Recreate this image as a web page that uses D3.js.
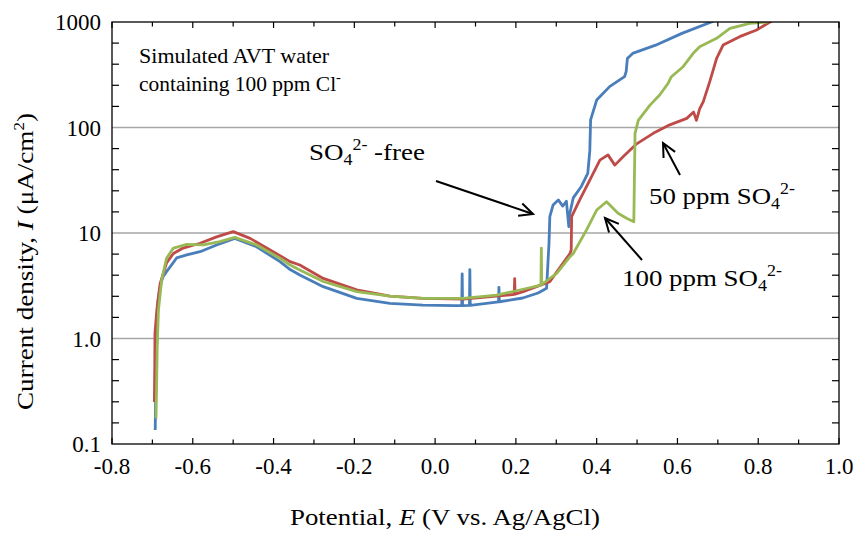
<!DOCTYPE html>
<html><head><meta charset="utf-8">
<script src="https://cdn.jsdelivr.net/npm/d3@7"></script>
<style>body{margin:0;background:#fff}svg{display:block}text{font-family:"Liberation Serif","Times New Roman",serif;fill:#000}</style>
</head><body><svg id="c" width="864" height="539"></svg>
<script>
const xTicks = [-0.8,-0.6,-0.4,-0.2,0.0,0.2,0.4,0.6,0.8,1.0];
const xTickLabels = ["-0.8","-0.6","-0.4","-0.2","0.0","0.2","0.4","0.6","0.8","1.0"];
const yTicks = [0.1,1,10,100,1000];
const yTickLabels = ["0.1","1.0","10","100","1000"];
const gridValues = [1,10,100];

const seriesNames = ["SO4 2- -free","50 ppm SO4 2-","100 ppm SO4 2-"];
const seriesColors = ["#4a7ebb","#be4b48","#98b954"];

const blueE = [-0.693,-0.691,-0.689,-0.686,-0.680,-0.674,-0.665,-0.656,-0.640,-0.615,-0.582,-0.541,-0.496,-0.442,-0.384,-0.359,-0.335,-0.277,-0.194,-0.112,-0.030,0.050,0.066,0.067,0.068,0.085,0.086,0.087,0.157,0.158,0.159,0.217,0.255,0.276,0.282,0.284,0.292,0.305,0.316,0.325,0.331,0.333,0.342,0.362,0.378,0.383,0.385,0.400,0.432,0.469,0.473,0.476,0.489,0.546,0.611,0.684,0.700];
const blueI = [0.136,0.5,1.0,2.3,3.2,3.83,4.3,4.77,5.8,6.2,6.65,7.7,8.9,7.4,5.35,4.5,4.0,3.1,2.40,2.15,2.07,2.05,2.05,4.1,2.05,2.06,4.5,2.06,2.22,3.05,2.23,2.42,2.7,3.0,8,14.3,18.4,20.6,18,20,11.5,15,21.5,27.6,36.8,60,118,182,244,303,339,450,504,603,780,1000,1080];

const redE = [-0.695,-0.694,-0.6936,-0.689,-0.681,-0.665,-0.648,-0.624,-0.582,-0.541,-0.500,-0.458,-0.401,-0.359,-0.335,-0.277,-0.194,-0.112,-0.030,0.070,0.152,0.196,0.197,0.198,0.218,0.284,0.334,0.337,0.338,0.358,0.383,0.408,0.428,0.445,0.466,0.499,0.540,0.581,0.623,0.640,0.647,0.655,0.664,0.680,0.697,0.713,0.754,0.796,0.829,0.840];
const redI = [0.25,0.6,1.12,1.86,3.3,5.2,6.4,7.2,8.0,9.2,10.3,8.9,6.65,5.35,4.97,3.71,2.89,2.52,2.40,2.36,2.52,2.62,3.7,2.63,2.78,3.46,6.4,6.9,14.3,20.6,31.7,49,55,44,53,70,88,106,122,140,117,150,176,272,453,605,726,840,1000,1050];

const greenE = [-0.691,-0.689,-0.688,-0.685,-0.677,-0.665,-0.648,-0.615,-0.574,-0.533,-0.496,-0.442,-0.384,-0.359,-0.335,-0.277,-0.194,-0.112,-0.030,0.069,0.152,0.218,0.262,0.263,0.264,0.301,0.334,0.342,0.375,0.400,0.4245,0.453,0.474,0.492,0.495,0.503,0.532,0.556,0.577,0.585,0.614,0.639,0.655,0.697,0.730,0.779,0.821,0.830];
const greenI = [0.175,0.5,0.84,1.86,3.59,5.75,7.2,7.8,7.7,8.3,9.1,7.7,5.75,4.97,4.45,3.47,2.78,2.52,2.40,2.40,2.58,2.93,3.2,7.2,3.25,4.15,5.96,6.4,10.7,16.5,19.8,15.4,13.8,12.8,88,117,163,203,263,303,377,505,583,700,870,970,1000,1050];

const svg = d3.select("#c");
const L=112,R=839,T=22,B=444;
const x = d3.scaleLinear().domain([-0.8,1.0]).range([L,R]);
const y = d3.scaleLog().domain([0.1,1000]).range([B,T]);

svg.append("defs").append("clipPath").attr("id","clip").append("rect").attr("x",L).attr("y",T).attr("width",R-L).attr("height",B-T);

svg.append("g").selectAll("line").data(gridValues).join("line")
  .attr("x1",L).attr("x2",R).attr("y1",d=>y(d)).attr("y2",d=>y(d))
  .attr("stroke","#a6a6a6").attr("stroke-width",1.3);

const line = d3.line().x(d=>x(d[0])).y(d=>y(d[1]));
const data = [d3.zip(blueE,blueI), d3.zip(redE,redI), d3.zip(greenE,greenI)];
const g = svg.append("g").attr("clip-path","url(#clip)");
[0,1,2].forEach(i=>{
  g.append("path").attr("d",line(data[i])).attr("fill","none")
   .attr("stroke",seriesColors[i]).attr("stroke-width",2.8).attr("stroke-linejoin","round");
});
svg.append("rect").attr("x",L).attr("y",T).attr("width",R-L).attr("height",B-T).attr("fill","none").attr("stroke","#000").attr("stroke-width",1.3);

const xMinor = d3.range(-8,11).map(v=>v/10);
const tk = svg.append("g").attr("stroke","#000").attr("stroke-width",1.2);
xMinor.forEach(v=>{
  const major = Math.round(v*10)%2===0;
  const len = major?6:4.5;
  tk.append("line").attr("x1",x(v)).attr("x2",x(v)).attr("y1",B).attr("y2",B-len);
  tk.append("line").attr("x1",x(v)).attr("x2",x(v)).attr("y1",T).attr("y2",T+len);
});
const yMinor = [];
for(let k=-1;k<3;k++){for(let j=1;j<5;j++){yMinor.push(Math.pow(10,k+0.2*j));}}
yMinor.forEach(v=>{
  tk.append("line").attr("x1",L).attr("x2",L+7).attr("y1",y(v)).attr("y2",y(v));
  tk.append("line").attr("x1",R).attr("x2",R-7).attr("y1",y(v)).attr("y2",y(v));
});

// helper: stretch horizontally so text spans given width from its start x
function fit(t, x0, w){
  const bw = t.node().getBBox().width;
  t.attr("transform",`translate(${x0},0) scale(${w/bw},1) translate(${-x0},0)`);
}

svg.append("g").selectAll("text").data(xTicks).join("text")
  .attr("x",d=>x(d)).attr("y",474).attr("text-anchor","middle").attr("font-size",23)
  .text((d,i)=>xTickLabels[i]);
svg.append("g").selectAll("text").data(yTicks).join("text")
  .attr("x",101).attr("y",d=>y(d)+8).attr("text-anchor","end").attr("font-size",23)
  .text((d,i)=>yTickLabels[i]);

const xt = svg.append("text").attr("x",290).attr("y",525).attr("font-size",23);
xt.append("tspan").text("Potential, ");
xt.append("tspan").attr("font-style","italic").text("E");
xt.append("tspan").text(" (V vs. Ag/AgCl)");
fit(xt,290,310);

const yt = svg.append("text").attr("x",-410).attr("y",33).attr("font-size",24);
yt.append("tspan").text("Current density, ");
yt.append("tspan").attr("font-style","italic").text("I");
yt.append("tspan").text(" (\u03bcA/cm");
yt.append("tspan").attr("font-size",15).attr("dy",-9).text("2");
yt.append("tspan").attr("dy",9).text(")");
{
  const bw = yt.node().getBBox().width;
  yt.attr("transform",`rotate(-90) translate(-410,0) scale(${297/bw},1) translate(410,0)`);
}

function so4(x0, y0, pre, post, w){
  const tx = svg.append("text").attr("x",x0).attr("y",y0).attr("font-size",24);
  tx.append("tspan").text(pre+"SO");
  tx.append("tspan").attr("font-size",16).attr("dy",5).text("4");
  tx.append("tspan").attr("font-size",16).attr("dy",-15).text("2-");
  if(post) tx.append("tspan").attr("dy",10).text(post);
  fit(tx,x0,w);
}
const a1 = svg.append("text").attr("x",139).attr("y",63).attr("font-size",22).text("Simulated AVT water");
fit(a1,139,191);
const a2 = svg.append("text").attr("x",139).attr("y",91).attr("font-size",22);
a2.append("tspan").text("containing 100 ppm Cl");
a2.append("tspan").attr("font-size",15).attr("dy",-9).text("-");
fit(a2,139,202);

so4(309, 160, "", " -free", 116);
so4(649, 204, "50 ppm ", "", 146);
so4(622, 286, "100 ppm ", "", 160);

function arrow(x1,y1,x2,y2){
  const ang = Math.atan2(y2-y1,x2-x1), h=15, w=0.45;
  svg.append("line").attr("x1",x1).attr("y1",y1).attr("x2",x2).attr("y2",y2).attr("stroke","#000").attr("stroke-width",2);
  const p = [[x2-h*Math.cos(ang-w), y2-h*Math.sin(ang-w)],[x2,y2],[x2-h*Math.cos(ang+w), y2-h*Math.sin(ang+w)]];
  svg.append("path").attr("d",d3.line()(p)).attr("fill","none").attr("stroke","#000").attr("stroke-width",2);
}
arrow(436,181,533,214);
arrow(680,175,663,143);
arrow(642,260,605,218);
</script></body></html>
